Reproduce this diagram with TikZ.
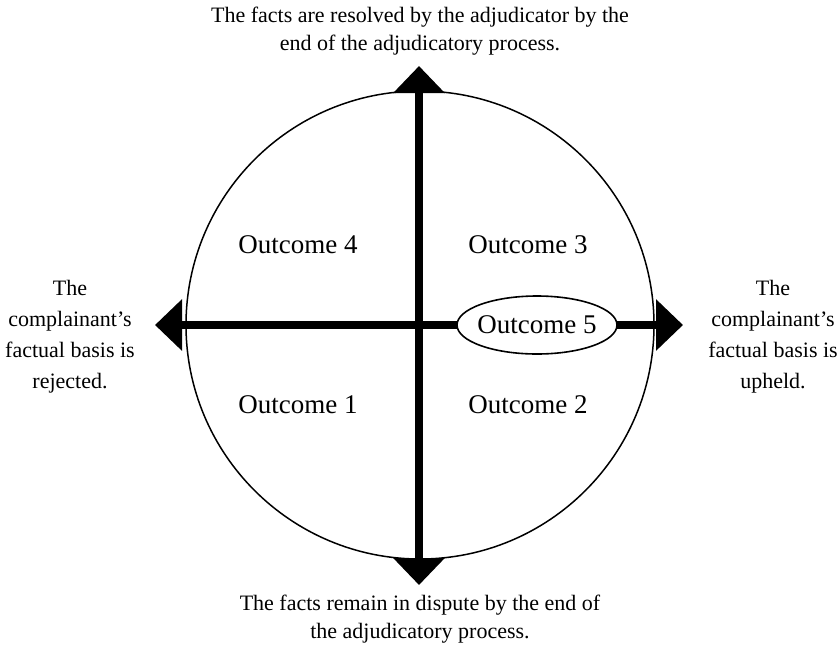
\documentclass[tikz,border=0pt]{standalone}
\usepackage{fontspec}
\setmainfont{Liberation Serif}
\usetikzlibrary{arrows.meta,shapes.geometric}
\begin{document}
\begin{tikzpicture}[x=1pt,y=-1pt,
  axis/.style={line width=8pt,{Triangle[length=27pt,width=50pt]}-{Triangle[length=27pt,width=50pt]}},
  outc/.style={font=\fontsize{27}{30}\selectfont},
  capt/.style={font=\fontsize{22}{28}\selectfont,align=center}]
\useasboundingbox (0,0) rectangle (840,649);
\node[circle,draw,line width=1.5pt,minimum size=468pt,inner sep=0pt] (circ) at (420,325) {};
\coordinate (top) at (419,66);
\coordinate (bot) at (419,585);
\coordinate (lft) at (155,325);
\coordinate (rgt) at (683,325);
\draw[axis] (top) -- (bot);
\draw[axis] (lft) -- (rgt);
\node[ellipse,draw,fill=white,line width=1.6pt,minimum width=160pt,minimum height=58pt,inner xsep=-5pt,inner ysep=0pt,outc] (o5) at (537,325) {Outcome 5};
\node[outc] (o4) at (298,245) {Outcome 4};
\node[outc] (o3) at (528,245) {Outcome 3};
\node[outc] (o1) at (298,405) {Outcome 1};
\node[outc] (o2) at (528,405) {Outcome 2};
\node[capt] (tt) at (420,31) {The facts are resolved by the adjudicator by the\\end of the adjudicatory process.};
\node[capt] (bt) at (420,619) {The facts remain in dispute by the end of\\the adjudicatory process.};
\node[capt,font=\fontsize{22}{31}\selectfont] (lt) at (70,337) {The\\complainant’s\\factual basis is\\rejected.};
\node[capt,font=\fontsize{22}{31}\selectfont] (rt) at (773,337) {The\\complainant’s\\factual basis is\\upheld.};
\end{tikzpicture}
\end{document}
